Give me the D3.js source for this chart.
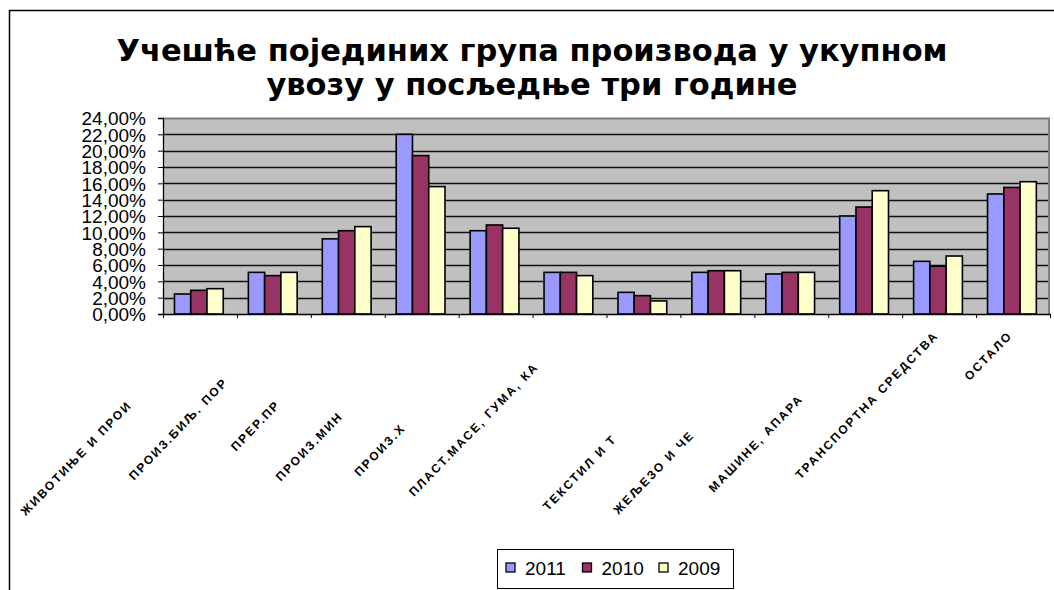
<!DOCTYPE html>
<html>
<head>
<meta charset="utf-8">
<script src="https://cdn.jsdelivr.net/npm/d3@7"></script>
<style>
  body { margin: 0; background: #fff; }
  svg { display: block; }
</style>
</head>
<body>
<div id="chart"></div>
<script>
// Data
var categories = [
  "ЖИВОТИЊЕ И ПРОИ", "ПРОИЗ.БИЉ. ПОР", "ПРЕР.ПР", "ПРОИЗ.МИН", "ПРОИЗ.Х",
  "ПЛАСТ.МАСЕ, ГУМА, КА", "", "ТЕКСТИЛ И Т", "ЖЕЉЕЗО И ЧЕ", "МАШИНЕ, АПАРА",
  "ТРАНСПОРТНА СРЕДСТВА", "ОСТАЛО"
];
// the cut-off end of each label (not shown in the chart)
var categoryRest = [
  "ЗВОДИ ЖИВ.", "ИЈЕКЛА.", "ЕХР.ПРОИЗВ", "ЕРАЛ. ГОРИВА", "ЕМИЈСКЕ ИНДУС",
  "УЧУК.", "", "ЕКСТИЛНИ ПРОИЗ.", "ЛИК, ОСТ.МЕТАЛИ", "ТИ И УРЕЂ.",
  "", ""
];
var years = ["2011", "2010", "2009"];
var values2011 = [2.45, 5.1, 9.2, 22.0, 10.2, 5.1, 2.65, 5.1, 4.9, 12.0, 6.45, 14.7];
var values2010 = [2.9, 4.7, 10.2, 19.4, 10.9, 5.1, 2.25, 5.3, 5.1, 13.1, 5.85, 15.5];
var values2009 = [3.1, 5.1, 10.7, 15.6, 10.5, 4.7, 1.6, 5.3, 5.1, 15.1, 7.1, 16.2];
var yTicks = [0, 2, 4, 6, 8, 10, 12, 14, 16, 18, 20, 22, 24];
var colors = ["#9999FF", "#993366", "#FFFFCC"];

var svgWidth = 1054;
var svgHeight = 590;

var plot = { left: 163, top: 118, right: 1050, bottom: 314 };

var svg = d3.select("#chart").append("svg")
  .attr("width", svgWidth)
  .attr("height", svgHeight);

svg.append("rect")
  .attr("width", svgWidth)
  .attr("height", svgHeight)
  .attr("fill", "#fff");

// outer chart frame (runs off the picture on the right and bottom)
svg.append("rect")
  .attr("x", 9.5)
  .attr("y", 10.5)
  .attr("width", 1100)
  .attr("height", 700)
  .attr("fill", "none")
  .attr("stroke", "#000")
  .attr("stroke-width", 1.5);

// title
var title = svg.append("text")
  .attr("text-anchor", "middle")
  .attr("font-family", "DejaVu Sans")
  .attr("font-weight", "bold")
  .attr("font-size", "30.5px")
  .attr("fill", "#000");
title.append("tspan").attr("x", 532).attr("y", 61)
  .text("Учешће појединих група производа у укупном");
title.append("tspan").attr("x", 532).attr("y", 95)
  .text("увозу у посљедње три године");

// scales
var series = [values2011, values2010, values2009];
var data = categories.map(function(c, i) {
  return years.map(function(yr, j) { return { year: yr, value: series[j][i], s: j }; });
});

var xCat = d3.scaleBand()
  .domain(d3.range(categories.length))
  .range([plot.left, plot.right]);

var step = xCat.step();

var x1 = d3.scaleBand()
  .domain(years)
  .range([step * 0.155, step * 0.815]);

var y = d3.scaleLinear()
  .domain([0, 24])
  .range([plot.bottom, plot.top]);

var xLin = d3.scaleLinear()
  .domain([0, categories.length])
  .range([plot.left, plot.right]);

// plot background
svg.append("rect")
  .attr("x", plot.left)
  .attr("y", plot.top)
  .attr("width", plot.right - plot.left)
  .attr("height", plot.bottom - plot.top)
  .attr("fill", "#C0C0C0");

// gridlines
svg.append("g").selectAll("line")
  .data(yTicks.filter(function(d) { return d > 0 && d < 24; }))
  .enter().append("line")
  .attr("x1", plot.left)
  .attr("x2", plot.right)
  .attr("y1", function(d) { return Math.round(y(d)) + 0.5; })
  .attr("y2", function(d) { return Math.round(y(d)) + 0.5; })
  .attr("stroke", "#111")
  .attr("stroke-width", 1.3);

// plot border top/right
svg.append("path")
  .attr("d", "M" + plot.left + "," + (plot.top + 0.5) + "H" + (plot.right - 1) + "V" + plot.bottom)
  .attr("fill", "none")
  .attr("stroke", "#808080")
  .attr("stroke-width", 2);

// bars
var groups = svg.append("g").selectAll("g")
  .data(data)
  .enter().append("g")
  .attr("transform", function(d, i) { return "translate(" + xCat(i) + ",0)"; });

groups.selectAll("rect")
  .data(function(d) { return d; })
  .enter().append("rect")
  .attr("x", function(d) { return x1(d.year); })
  .attr("y", function(d) { return y(d.value); })
  .attr("width", x1.bandwidth())
  .attr("height", function(d) { return plot.bottom - y(d.value); })
  .attr("fill", function(d) { return colors[d.s]; })
  .attr("stroke", "#000")
  .attr("stroke-width", 1.6);

// y axis
var leftAxis = d3.axisLeft(y)
  .tickValues(yTicks)
  .tickSize(5)
  .tickFormat(function(d) { return d.toFixed(2).replace(".", ",") + "%"; });

var yAxis = svg.append("g")
  .attr("transform", "translate(" + plot.left + ",0)")
  .call(leftAxis);
yAxis.select(".domain").attr("stroke", "#000").attr("stroke-width", 1.3);
yAxis.selectAll(".tick line").attr("stroke", "#000");
yAxis.selectAll(".tick text")
  .attr("font-family", "Liberation Sans, Arial, sans-serif")
  .attr("font-size", "19px")
  .attr("fill", "#000")
  .attr("x", -17)
  .attr("dy", "0.36em");

// x axis (ticks at category boundaries)
var bottomAxis = d3.axisBottom(xLin)
  .ticks(categories.length)
  .tickSize(4)
  .tickSizeOuter(0)
  .tickFormat("");

var xAxis = svg.append("g")
  .attr("transform", "translate(0," + plot.bottom + ")")
  .call(bottomAxis);
xAxis.select(".domain").attr("stroke", "#000").attr("stroke-width", 1.3);
xAxis.selectAll(".tick line").attr("stroke", "#000");

// rotated category labels, end anchored under each category
var labels = svg.append("g").selectAll("text")
  .data(categories)
  .enter().append("text")
  .attr("text-anchor", "end")
  .attr("font-family", "Liberation Sans, Arial, sans-serif")
  .attr("font-weight", "bold")
  .attr("font-size", "12px")
  .attr("letter-spacing", "2px")
  .attr("fill", "#000")
  .attr("transform", function(d, i) {
    return "translate(" + (xCat(i) + step / 2) + "," + (plot.bottom + 22) + ") rotate(-46)";
  });
labels.append("tspan").text(function(d) { return d; });
labels.append("tspan")
  .attr("fill-opacity", 0)
  .text(function(d, i) { return categoryRest[i]; });

// legend
var legend = svg.append("g").attr("transform", "translate(497,549)");
legend.append("rect")
  .attr("x", 0.5).attr("y", 0.5)
  .attr("width", 236).attr("height", 39)
  .attr("fill", "#fff")
  .attr("stroke", "#000")
  .attr("stroke-width", 1);

var legendItems = legend.selectAll("g")
  .data(years)
  .enter().append("g")
  .attr("transform", function(d, i) { return "translate(" + (9 + i * 76.5) + ",0)"; });

legendItems.append("rect")
  .attr("x", 0).attr("y", 14)
  .attr("width", 9).attr("height", 9)
  .attr("fill", function(d, i) { return colors[i]; })
  .attr("stroke", "#000")
  .attr("stroke-width", 1.3);

legendItems.append("text")
  .attr("x", 19)
  .attr("y", 25.5)
  .attr("font-family", "Liberation Sans, Arial, sans-serif")
  .attr("font-size", "19px")
  .attr("fill", "#000")
  .text(function(d) { return d; });
</script>
</body>
</html>
